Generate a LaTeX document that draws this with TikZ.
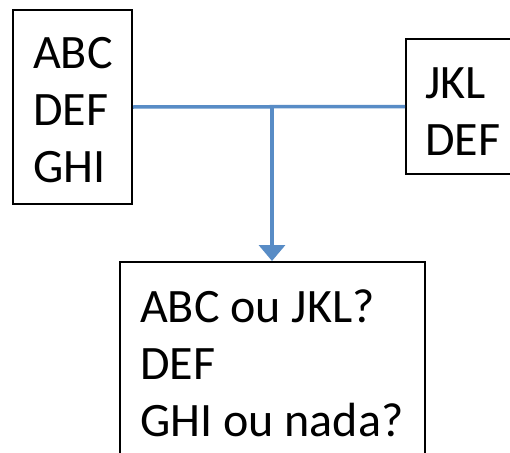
\documentclass[tikz,border=0pt]{standalone}
\usepackage{fontspec}
\setmainfont{Carlito}
\usetikzlibrary{arrows.meta}
\definecolor{linkblue}{RGB}{88,140,198}
\tikzset{
  box/.style={draw=black, line width=2pt, inner sep=0pt},
  txt/.style={anchor=north west, inner sep=0pt, align=left, font=\fontsize{48}{57}\selectfont},
  link/.style={draw=linkblue, line width=3.5pt}
}
\begin{document}
\begin{tikzpicture}[x=1pt,y=-1pt]
\useasboundingbox (0,0) rectangle (510,452);
\clip (0,0) rectangle (510,452);
\fill[white] (0,0) rectangle (510,452);
\node[box, minimum width=119pt, minimum height=193pt] (L) at (72.5,107) {};
\node[box, minimum width=130pt, minimum height=134pt] (R) at (471,106.5) {};
\node[box, minimum width=305.5pt, minimum height=250pt] (B) at (272.25,387) {};
\node[txt] (Lt) at (33,37.5) {ABC\\DEF\\GHI};
\node[txt] (Rt) at (425,67.3) {JKL\\DEF};
\node[txt] (Bt) at (140,289.5) {ABC ou JKL?\\DEF\\GHI ou nada?};
\coordinate (J) at (272,107);
\draw[link] (L.east) -- (R.west);
\draw[link, -{Triangle[width=26pt,length=16pt]}] (J) -- (J |- B.north);
\end{tikzpicture}
\end{document}
